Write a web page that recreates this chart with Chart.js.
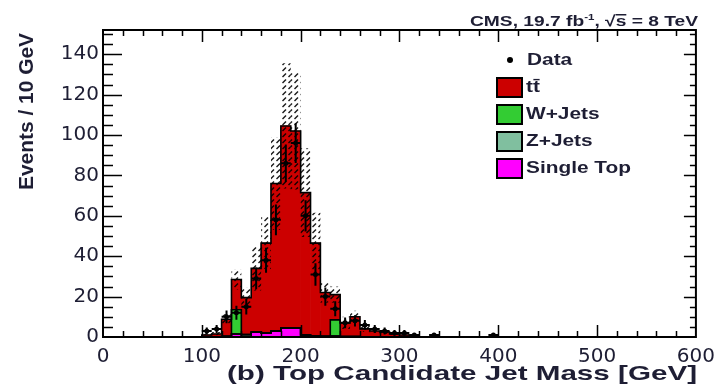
<!DOCTYPE html>
<html>
<head>
<meta charset="utf-8">
<title>Top Candidate Jet Mass</title>
<script src="https://cdn.jsdelivr.net/npm/chart.js@4.4.1/dist/chart.umd.min.js"></script>
<style>
  html, body { margin: 0; padding: 0; background: #fff; }
</style>
</head>
<body>
<canvas id="massPlot" width="723" height="387"></canvas>
<script>
// lower edges of the 10 GeV bins
const binLow = [100, 110, 120, 130, 140, 150, 160, 170, 180, 190,
                200, 210, 220, 230, 240, 250, 260, 270, 280, 290,
                300, 310, 320, 330, 340, 350, 360, 370, 380, 390];

// stacked simulation, bottom to top
const singleTop = [0, 0, 0.3, 1.5, 0.2, 2.5, 2, 3, 4.5, 4.5,
                   1, 0.5, 0.3, 0.5, 0.2, 0.2, 0, 0, 0, 0,
                   0, 0, 0, 0, 0, 0, 0, 0, 0, 0];
const zJets = [0, 0, 0, 0, 1, 0, 0, 0, 0, 0,
               0, 0, 0, 0, 0, 0, 0, 0, 0, 0,
               0, 0, 0, 0, 0, 0, 0, 0, 0, 0];
const wJets = [0, 0, 0, 12, 0, 0, 0, 0, 0, 0,
               0, 0, 0, 8, 0, 0, 0, 0, 0, 0,
               0, 0, 0, 0, 0, 0, 0, 0, 0, 0];
const ttbar = [1, 1.5, 8.5, 15, 18.3, 31.5, 44.5, 73, 100, 97.5,
               70.5, 46, 21.7, 12.5, 6.8, 9.8, 4, 3, 2.5, 1.5,
               1, 0.8, 0, 0, 0, 0, 0, 0, 0, 0];
// absolute uncertainty on the summed simulation
const mcUnc = [0.8, 1, 2.5, 5, 5, 11, 13, 23, 31, 29,
               22, 15, 5, 4, 3, 3, 1.5, 1, 1, 0.6,
               0.4, 0.3, 0, 0, 0, 0, 0, 0, 0, 0];
// observed events
const observed = [3, 4, 10, 12, 15, 29, 38, 58, 86, 96,
                  60, 31, 20, 14, 7, 8, 6, 4, 3, 2,
                  2, 1, 0, 1, 0, 0, 0, 0, 0, 1];

const xTicks = [0, 100, 200, 300, 400, 500, 600];
const yTicks = [0, 20, 40, 60, 80, 100, 120, 140];

const INK = '#1e1e34';
const BIN = 10;

// running stack
const layers = [
  { label: 'Single Top', values: singleTop, color: '#ff00ff' },
  { label: 'Z+Jets',     values: zJets,     color: '#80bf9f' },
  { label: 'W+Jets',     values: wJets,     color: '#33cc33' },
  { label: 'tt\u0304',   values: ttbar,     color: '#cc0000' }
];
let running = binLow.map(() => 0);
layers.forEach(layer => {
  layer.base = running;
  layer.top = running.map((v, i) => v + layer.values[i]);
  running = layer.top;
});
const mcTotal = running;

// hatch for the uncertainty band
function makeHatch() {
  const c = document.createElement('canvas');
  c.width = 6; c.height = 6;
  const g = c.getContext('2d');
  g.strokeStyle = 'rgba(0,0,0,0.9)';
  g.lineWidth = 1.4;
  g.beginPath();
  g.moveTo(0.5, 5); g.lineTo(4, 1.5);
  g.stroke();
  return g.createPattern(c, 'repeat');
}
const hatch = makeHatch();

const datasets = [];

// data points (error bars are drawn by the plugin below)
datasets.push({
  type: 'line',
  label: 'Data',
  data: binLow.map((lo, i) => ({ x: lo + BIN / 2, y: observed[i] })).filter(p => p.y > 0),
  showLine: false,
  pointRadius: 2.5,
  pointBackgroundColor: '#000',
  pointBorderWidth: 0,
  order: 1
});

// uncertainty band
datasets.push({
  type: 'bar',
  label: 'unc',
  data: binLow.map((lo, i) => ({ x: lo + BIN / 2, y: mcUnc[i] > 0 ? [mcTotal[i] - mcUnc[i], mcTotal[i] + mcUnc[i]] : null })),
  backgroundColor: hatch,
  borderWidth: 0,
  inflateAmount: 0,
  order: 3
});

// black step outline of each stacked component
layers.forEach(layer => {
  const pts = [{ x: binLow[0], y: 0 }];
  binLow.forEach((lo, i) => pts.push({ x: lo, y: layer.top[i] }));
  pts.push({ x: binLow[binLow.length - 1] + BIN, y: 0 });
  datasets.push({
    type: 'line',
    label: layer.label + ' outline',
    data: pts,
    stepped: 'before',
    borderColor: '#000',
    borderWidth: 1.6,
    pointRadius: 0,
    fill: false,
    order: 5
  });
});

// filled stack components
layers.forEach(layer => {
  datasets.push({
    type: 'bar',
    label: layer.label,
    data: binLow.map((lo, i) => ({ x: lo + BIN / 2, y: layer.values[i] > 0 ? [layer.base[i], layer.top[i]] : null })),
    backgroundColor: layer.color,
    borderWidth: 0,
    order: 10
  });
});

function stretchText(ctx, text, x, y, width, align) {
  const w = ctx.measureText(text).width;
  ctx.save();
  ctx.translate(x, y);
  ctx.scale(width / w, 1);
  ctx.textAlign = 'left';
  ctx.fillText(text, align === 'right' ? -w : 0, 0);
  ctx.restore();
}

const decorations = {
  id: 'decorations',
  afterDatasetsDraw(chart) {
    const { ctx, chartArea: a, scales: { x, y } } = chart;
    // data error bars
    ctx.save();
    ctx.beginPath();
    ctx.rect(a.left, a.top, a.right - a.left, a.bottom - a.top);
    ctx.clip();
    ctx.strokeStyle = '#000';
    ctx.lineWidth = 2;
    binLow.forEach((lo, i) => {
      const n = observed[i];
      if (n <= 0) return;
      const e = Math.sqrt(n);
      const py = y.getPixelForValue(n);
      ctx.beginPath();
      ctx.moveTo(x.getPixelForValue(lo), py);
      ctx.lineTo(x.getPixelForValue(lo + BIN), py);
      const cx = x.getPixelForValue(lo + BIN / 2);
      ctx.moveTo(cx, y.getPixelForValue(n + e));
      ctx.lineTo(cx, y.getPixelForValue(n - e));
      ctx.stroke();
    });
    ctx.restore();
  },
  afterDraw(chart) {
    const { ctx, chartArea: a, scales: { x, y } } = chart;
    ctx.save();
    // frame and inward ticks
    ctx.strokeStyle = '#000';
    ctx.lineWidth = 2;
    ctx.strokeRect(a.left, a.top, a.right - a.left, a.bottom - a.top);
    ctx.lineWidth = 1.5;
    ctx.beginPath();
    for (let v = 5; v < 152; v += 5) {
      const py = Math.round(y.getPixelForValue(v)) + 0.5;
      const major = v % 20 === 0;
      ctx.moveTo(a.left, py); ctx.lineTo(a.left + (major ? 19 : 10), py);
      ctx.moveTo(a.right, py); ctx.lineTo(a.right - (major ? 12 : 6), py);
    }
    for (let v = 20; v < 600; v += 20) {
      const px = Math.round(x.getPixelForValue(v)) + 0.5;
      const major = v % 100 === 0;
      ctx.moveTo(px, a.bottom); ctx.lineTo(px, a.bottom - (major ? 12 : 6));
      ctx.moveTo(px, a.top); ctx.lineTo(px, a.top + (major ? 12 : 6));
    }
    ctx.stroke();

    ctx.fillStyle = INK;
    ctx.textBaseline = 'alphabetic';

    // axis titles
    ctx.font = 'bold 21px "Liberation Sans", Arial, sans-serif';
    stretchText(ctx, '(b) Top Candidate Jet Mass [GeV]', 697, 380, 470, 'right');
    ctx.save();
    ctx.translate(33, 190);
    ctx.rotate(-Math.PI / 2);
    stretchText(ctx, 'Events / 10 GeV', 0, 0, 157, 'left');
    ctx.restore();

    // energy / luminosity label
    const big = 'bold 15px "Liberation Sans", Arial, sans-serif';
    const parts = [
      { t: 'CMS, 19.7 fb', f: big, dy: 0 },
      { t: '-1', f: 'bold 9px "Liberation Sans", Arial, sans-serif', dy: -6 },
      { t: ', \u221A', f: big, dy: 0 },
      { t: 's', f: big, dy: 0, bar: true },
      { t: ' = 8 TeV', f: big, dy: 0 }
    ];
    let total = 0;
    parts.forEach(p => { ctx.font = p.f; p.w = ctx.measureText(p.t).width; total += p.w; });
    ctx.save();
    ctx.translate(698 - 228, 26);
    ctx.scale(228 / total, 1);
    let cur = 0;
    parts.forEach(p => {
      ctx.font = p.f;
      ctx.fillText(p.t, cur, p.dy);
      if (p.bar) ctx.fillRect(cur, -12, p.w, 1.5);
      cur += p.w;
    });
    ctx.restore();

    // legend
    ctx.font = 'bold 16px "Liberation Sans", Arial, sans-serif';
    const lsx = 105 / ctx.measureText('Single Top').width;
    const legendText = (t, px, py) => {
      ctx.save();
      ctx.translate(px, py);
      ctx.scale(lsx, 1);
      ctx.textBaseline = 'middle';
      ctx.fillText(t, 0, 0);
      ctx.restore();
    };
    ctx.fillStyle = '#000';
    ctx.beginPath();
    ctx.arc(510, 60, 3, 0, Math.PI * 2);
    ctx.fill();
    ctx.fillStyle = INK;
    legendText('Data', 527, 61);
    const rows = [layers[3], layers[2], layers[1], layers[0]];
    const rowTop = [78, 105, 132, 159];
    rows.forEach((layer, k) => {
      ctx.fillStyle = layer.color;
      ctx.fillRect(497, rowTop[k], 25, 19);
      ctx.strokeStyle = '#000';
      ctx.lineWidth = 2;
      ctx.strokeRect(497, rowTop[k], 25, 19);
      ctx.fillStyle = INK;
      legendText(layer.label, 526, rowTop[k] + 10);
    });
    ctx.restore();
  }
};

new Chart(document.getElementById('massPlot'), {
  type: 'bar',
  data: { datasets },
  options: {
    responsive: false,
    animation: false,
    devicePixelRatio: 1,
    layout: { padding: { top: 30, right: 22, left: 0, bottom: 0 } },
    datasets: {
      bar: { grouped: false, barPercentage: 1, categoryPercentage: 1 }
    },
    scales: {
      x: {
        type: 'linear',
        min: 0,
        max: 600,
        offset: false,
        grid: { display: false, drawTicks: false, offset: false },
        border: { display: false },
        afterBuildTicks: s => { s.ticks = xTicks.map(v => ({ value: v })); },
        afterFit: s => { s.height = 50; },
        ticks: {
          color: INK,
          padding: 8,
          maxRotation: 0,
          font: { family: '"DejaVu Sans", sans-serif', size: 20 }
        }
      },
      y: {
        type: 'linear',
        min: 0,
        max: 152,
        grid: { display: false, drawTicks: false },
        border: { display: false },
        afterBuildTicks: s => { s.ticks = yTicks.map(v => ({ value: v })); },
        afterFit: s => { s.width = 103; },
        ticks: {
          color: INK,
          padding: 4,
          font: { family: '"DejaVu Sans", sans-serif', size: 20 }
        }
      }
    },
    plugins: {
      legend: { display: false },
      tooltip: { enabled: false }
    }
  },
  plugins: [decorations]
});
</script>
</body>
</html>
